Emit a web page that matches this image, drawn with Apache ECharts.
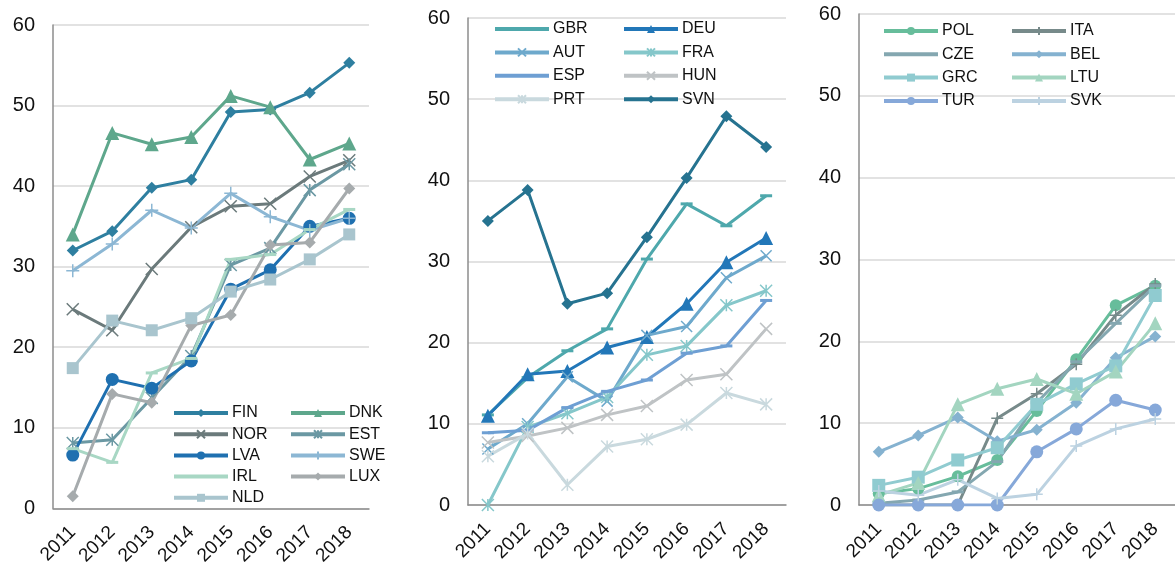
<!DOCTYPE html>
<html>
<head>
<meta charset="utf-8">
<script src="https://cdn.jsdelivr.net/npm/echarts@6/dist/echarts.min.js"></script>
<style>
  html, body { margin: 0; padding: 0; background: #fff; }
  #chart { width: 1175px; height: 568px; }
</style>
</head>
<body>
<div id="chart"></div>
<script>
// Years on the category axis
const years = ['2011', '2012', '2013', '2014', '2015', '2016', '2017', '2018'];
const yTicks = { min: 0, max: 60, interval: 10 };

// Left panel
const FIN = [32.0, 34.4, 39.8, 40.8, 49.2, 49.5, 51.6, 55.3];
const DNK = [34.0, 46.6, 45.2, 46.1, 51.2, 49.8, 43.3, 45.3];
const NOR = [24.7, 22.1, 29.7, 34.9, 37.5, 37.8, 41.2, 43.2];
const EST = [8.1, 8.5, 13.7, 18.9, 30.2, 32.3, 39.5, 42.7];
const LVA = [6.6, 16.0, 14.9, 18.3, 27.2, 29.6, 35.0, 36.0];
const SWE = [29.5, 32.8, 37.0, 34.8, 39.1, 36.2, 34.5, 36.0];
const IRL = [7.4, 5.7, 16.8, 18.6, 30.9, 31.5, 34.6, 37.1];
const LUX = [1.5, 14.2, 13.1, 22.7, 24.0, 32.7, 33.0, 39.7];
const NLD = [17.4, 23.3, 22.1, 23.6, 26.9, 28.4, 30.9, 34.0];

// Middle panel
const GBR = [11.1, 15.7, 19.0, 21.7, 30.3, 37.1, 34.4, 38.1];
const DEU = [11.0, 16.1, 16.5, 19.4, 20.7, 24.8, 29.9, 32.9];
const AUT = [6.9, 10.0, 15.8, 12.8, 20.9, 22.0, 28.0, 30.7];
const FRA = [0.0, 9.6, 11.3, 13.3, 18.5, 19.6, 24.6, 26.4];
const ESP = [8.9, 9.2, 12.0, 14.0, 15.4, 18.7, 19.6, 25.2];
const HUN = [7.7, 8.5, 9.5, 11.1, 12.2, 15.4, 16.1, 21.7];
const PRT = [6.0, 8.8, 2.5, 7.2, 8.1, 9.9, 13.8, 12.4];
const SVN = [35.0, 38.8, 24.8, 26.1, 33.0, 40.3, 47.9, 44.1];

// Right panel
const POL = [1.4, 2.0, 3.5, 5.5, 11.5, 17.8, 24.4, 26.8];
const ITA = [0, 0, 0, 10.6, 13.6, 17.2, 23.2, 27.0];
const CZE = [0.2, 0.6, 1.6, 5.3, 12.5, 17.5, 22.2, 26.8];
const BEL = [6.5, 8.5, 10.7, 7.8, 9.2, 12.5, 18.0, 20.6];
const GRC = [2.4, 3.4, 5.5, 7.0, 12.3, 14.8, 17.0, 25.6];
const LTU = [1.2, 2.7, 12.3, 14.2, 15.4, 13.6, 16.3, 22.2];
const TUR = [0, 0, 0, 0, 6.5, 9.3, 12.8, 11.6];
const SVK = [1.7, 1.2, 3.1, 0.8, 1.3, 7.2, 9.3, 10.5];

const FONT = "'Liberation Sans', Arial, sans-serif";
const X_MARK = 'path://M0,0L10,10M10,0L0,10';
const STAR_MARK = 'path://M0,0L10,10M10,0L0,10M5,0L5,10';
const PLUS_MARK = 'path://M5,0L5,10M0,5L10,5';
const DASH = 'dash';

// Series drawn with a short dash marker; their legend entries show a plain line
const dashNames = [];

function mk(name, data, color, symbol, size, grid) {
  const s = {
    name, type: 'line', data,
    xAxisIndex: grid, yAxisIndex: grid,
    lineStyle: { color, width: 3 },
    symbolKeepAspect: true,
    emphasis: { disabled: true }
  };
  if (symbol === DASH) {
    dashNames.push(name);
    s.symbol = 'rect';
    s.symbolSize = [12, 3];
    s.itemStyle = { color };
  } else if (symbol.startsWith('path://')) {
    s.symbol = symbol;
    s.symbolSize = size;
    s.itemStyle = { color: 'rgba(0,0,0,0)', borderColor: color, borderWidth: 1.5 };
  } else {
    s.symbol = symbol;
    s.symbolSize = size;
    s.itemStyle = { color, borderWidth: 0 };
  }
  return s;
}

const series = [
  mk('FIN', FIN, '#2e7fa0', 'diamond', 12, 0),
  mk('DNK', DNK, '#5ea78c', 'triangle', 14, 0),
  mk('NOR', NOR, '#6b7a7b', X_MARK, 12, 0),
  mk('EST', EST, '#6b98a3', STAR_MARK, 12, 0),
  mk('LVA', LVA, '#1f70b0', 'circle', 13, 0),
  mk('SWE', SWE, '#8cb7d4', PLUS_MARK, 13, 0),
  mk('IRL', IRL, '#a8d7c4', DASH, 0, 0),
  mk('LUX', LUX, '#a6abad', 'diamond', 12, 0),
  mk('NLD', NLD, '#a9c5ce', 'rect', 12, 0),

  mk('GBR', GBR, '#4ea8ac', DASH, 0, 1),
  mk('DEU', DEU, '#2277b8', 'triangle', 14, 1),
  mk('AUT', AUT, '#6ea9cc', X_MARK, 11, 1),
  mk('FRA', FRA, '#85c7ca', STAR_MARK, 12, 1),
  mk('ESP', ESP, '#6e9fd3', DASH, 0, 1),
  mk('HUN', HUN, '#bfc3c5', X_MARK, 12, 1),
  mk('PRT', PRT, '#c9d9de', STAR_MARK, 12, 1),
  mk('SVN', SVN, '#267390', 'diamond', 12, 1),

  mk('POL', POL, '#67bd9b', 'circle', 12, 2),
  mk('ITA', ITA, '#778a8a', PLUS_MARK, 12, 2),
  mk('CZE', CZE, '#84a7b0', DASH, 0, 2),
  mk('BEL', BEL, '#85b2d0', 'diamond', 12, 2),
  mk('GRC', GRC, '#90cbd0', 'rect', 13, 2),
  mk('LTU', LTU, '#a3d5c0', 'triangle', 14, 2),
  mk('TUR', TUR, '#86a8d9', 'circle', 13, 2),
  mk('SVK', SVK, '#bcd2e1', PLUS_MARK, 12, 2)
];

const grids = [
  { left: 53, top: 25, width: 316, height: 485 },
  { left: 468, top: 18, width: 318, height: 487 },
  { left: 859, top: 14, width: 323, height: 491 }
];

const xAxes = grids.map((g, i) => ({
  type: 'category', gridIndex: i, data: years, boundaryGap: true,
  axisLine: { lineStyle: { color: '#8c8c8c', width: 1.5 } },
  axisTick: { inside: true, length: 6, lineStyle: { color: '#8c8c8c', width: 1.5 } },
  axisLabel: { rotate: 45, interval: 0, margin: 21, color: '#111', fontSize: 19, fontFamily: FONT },
  splitLine: { show: false }
}));

const yAxes = grids.map((g, i) => ({
  type: 'value', gridIndex: i, min: yTicks.min, max: yTicks.max, interval: yTicks.interval,
  axisLine: { show: true, lineStyle: { color: '#8c8c8c', width: 1.5 } },
  axisTick: { show: false },
  axisLabel: { margin: 18, color: '#111', fontSize: 20, fontFamily: FONT },
  splitLine: { lineStyle: { color: '#d9d9d9', width: 1.5 } }
}));

function legendCol(names, left, centerTop, spacing) {
  return {
    orient: 'vertical', left, top: centerTop - 8, itemGap: spacing - 16, padding: 0,
    itemWidth: 54, itemHeight: 10,
    data: names.map(n => dashNames.includes(n)
      ? { name: n, itemStyle: { opacity: 0 } }
      : { name: n }),
    selectedMode: false,
    lineStyle: { width: 4 },
    textStyle: { fontSize: 16, lineHeight: 16, color: '#111', fontFamily: FONT, padding: [0, 0, 0, -1] }
  };
}

const legends = [
  legendCol(['FIN', 'NOR', 'LVA', 'IRL', 'NLD'], 172, 413, 21.2),
  legendCol(['DNK', 'EST', 'SWE', 'LUX'], 289, 413, 21.2),
  legendCol(['GBR', 'AUT', 'ESP', 'PRT'], 493, 29, 23.4),
  legendCol(['DEU', 'FRA', 'HUN', 'SVN'], 622, 29, 23.4),
  legendCol(['POL', 'CZE', 'GRC', 'TUR'], 882, 31, 23.3),
  legendCol(['ITA', 'BEL', 'LTU', 'SVK'], 1010, 31, 23.3)
];

const chart = echarts.init(document.getElementById('chart'), null, { renderer: 'canvas' });
chart.setOption({
  animation: false,
  backgroundColor: '#fff',
  grid: grids,
  xAxis: xAxes,
  yAxis: yAxes,
  legend: legends,
  series
});
</script>
</body>
</html>
